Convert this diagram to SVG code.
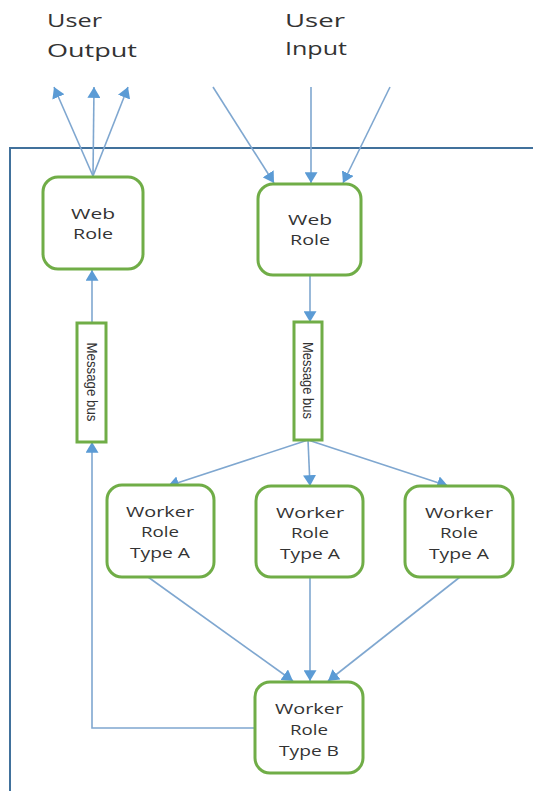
<svg xmlns="http://www.w3.org/2000/svg" width="533" height="791" viewBox="0 0 533 791">
<defs>
<marker id="ah" viewBox="0 0 10 12" refX="10" refY="6" markerWidth="11" markerHeight="13" markerUnits="userSpaceOnUse" orient="auto">
<path d="M0,0 L10,6 L0,12 z" fill="#5B9BD5"/>
</marker>
<style>
.box{fill:#fff;stroke:#70AD47;stroke-width:3}
.t{font-family:"Open Sans","Liberation Sans",sans-serif;fill:#333;font-size:15px}
.tb{font-family:"Open Sans","Liberation Sans",sans-serif;fill:#333;font-size:19px}
.tm{font-family:"Liberation Sans","Open Sans",sans-serif;fill:#333;font-size:14px}
.e{fill:none;stroke:#7FA7D0;stroke-width:1.6;marker-end:url(#ah)}
</style>
</defs>
<rect width="533" height="791" fill="#fff"/>
<g id="container">
<path d="M533,148 L10,148 L10,791" fill="none" stroke="#41719C" stroke-width="2"/>
</g>
<g id="labels">
<text class="tb" x="47" y="27" textLength="55" lengthAdjust="spacingAndGlyphs">User</text>
<text class="tb" x="47" y="57" textLength="90" lengthAdjust="spacingAndGlyphs">Output</text>
<text class="tb" x="285" y="27" textLength="60" lengthAdjust="spacingAndGlyphs">User</text>
<text class="tb" x="285" y="55" textLength="62" lengthAdjust="spacingAndGlyphs">Input</text>
</g>
<g id="connectors">
<line class="e" x1="93" y1="176" x2="54" y2="87"/>
<line class="e" x1="93" y1="176" x2="94" y2="87"/>
<line class="e" x1="93" y1="176" x2="128" y2="87"/>
<line class="e" x1="213" y1="87" x2="274" y2="183"/>
<line class="e" x1="311" y1="87" x2="311" y2="183"/>
<line class="e" x1="390" y1="87" x2="343" y2="183"/>
<line class="e" x1="310" y1="276" x2="310" y2="322"/>
<line class="e" x1="92" y1="323" x2="92" y2="270"/>
<polyline class="e" points="255,728 92,728 92,442"/>
<line class="e" x1="308" y1="440" x2="168" y2="486"/>
<line class="e" x1="308" y1="440" x2="310" y2="486"/>
<line class="e" x1="308" y1="440" x2="448" y2="486"/>
<line class="e" x1="148" y1="577" x2="293" y2="681"/>
<line class="e" x1="310" y1="577" x2="310" y2="681"/>
<line class="e" x1="460" y1="577" x2="328" y2="681"/>
</g>
<g id="webrole-out">
<rect class="box" x="43" y="177" width="100" height="92" rx="15"/>
<text class="t" x="93" y="219" text-anchor="middle" textLength="44" lengthAdjust="spacingAndGlyphs">Web</text>
<text class="t" x="93" y="239" text-anchor="middle" textLength="40" lengthAdjust="spacingAndGlyphs">Role</text>
</g>
<g id="webrole-in">
<rect class="box" x="258" y="184" width="103" height="91" rx="15"/>
<text class="t" x="310" y="225" text-anchor="middle" textLength="44" lengthAdjust="spacingAndGlyphs">Web</text>
<text class="t" x="310" y="245" text-anchor="middle" textLength="40" lengthAdjust="spacingAndGlyphs">Role</text>
</g>
<g id="bus-out">
<rect class="box" x="77" y="323" width="29" height="119"/>
<text class="tm" transform="translate(91.5,382) rotate(90)" text-anchor="middle" dominant-baseline="central" textLength="79" lengthAdjust="spacingAndGlyphs">Message bus</text>
</g>
<g id="bus-in">
<rect class="box" x="294" y="322" width="28" height="118"/>
<text class="tm" transform="translate(308,380.5) rotate(90)" text-anchor="middle" dominant-baseline="central" textLength="77" lengthAdjust="spacingAndGlyphs">Message bus</text>
</g>
<g id="workerA1">
<rect class="box" x="107" y="485" width="107" height="92" rx="15"/>
<text class="t" x="160" y="517" text-anchor="middle" textLength="68" lengthAdjust="spacingAndGlyphs">Worker</text>
<text class="t" x="160" y="537" text-anchor="middle" textLength="38" lengthAdjust="spacingAndGlyphs">Role</text>
<text class="t" x="160" y="558" text-anchor="middle" textLength="60" lengthAdjust="spacingAndGlyphs">Type A</text>
</g>
<g id="workerA2">
<rect class="box" x="256" y="486" width="107" height="91" rx="15"/>
<text class="t" x="310" y="518" text-anchor="middle" textLength="68" lengthAdjust="spacingAndGlyphs">Worker</text>
<text class="t" x="310" y="538" text-anchor="middle" textLength="38" lengthAdjust="spacingAndGlyphs">Role</text>
<text class="t" x="310" y="559" text-anchor="middle" textLength="60" lengthAdjust="spacingAndGlyphs">Type A</text>
</g>
<g id="workerA3">
<rect class="box" x="405" y="486" width="108" height="91" rx="15"/>
<text class="t" x="459" y="518" text-anchor="middle" textLength="68" lengthAdjust="spacingAndGlyphs">Worker</text>
<text class="t" x="459" y="538" text-anchor="middle" textLength="38" lengthAdjust="spacingAndGlyphs">Role</text>
<text class="t" x="459" y="559" text-anchor="middle" textLength="60" lengthAdjust="spacingAndGlyphs">Type A</text>
</g>
<g id="workerB">
<rect class="box" x="255" y="682" width="108" height="91" rx="15"/>
<text class="t" x="309" y="714" text-anchor="middle" textLength="68" lengthAdjust="spacingAndGlyphs">Worker</text>
<text class="t" x="309" y="735" text-anchor="middle" textLength="38" lengthAdjust="spacingAndGlyphs">Role</text>
<text class="t" x="309" y="756" text-anchor="middle" textLength="60" lengthAdjust="spacingAndGlyphs">Type B</text>
</g>
</svg>
